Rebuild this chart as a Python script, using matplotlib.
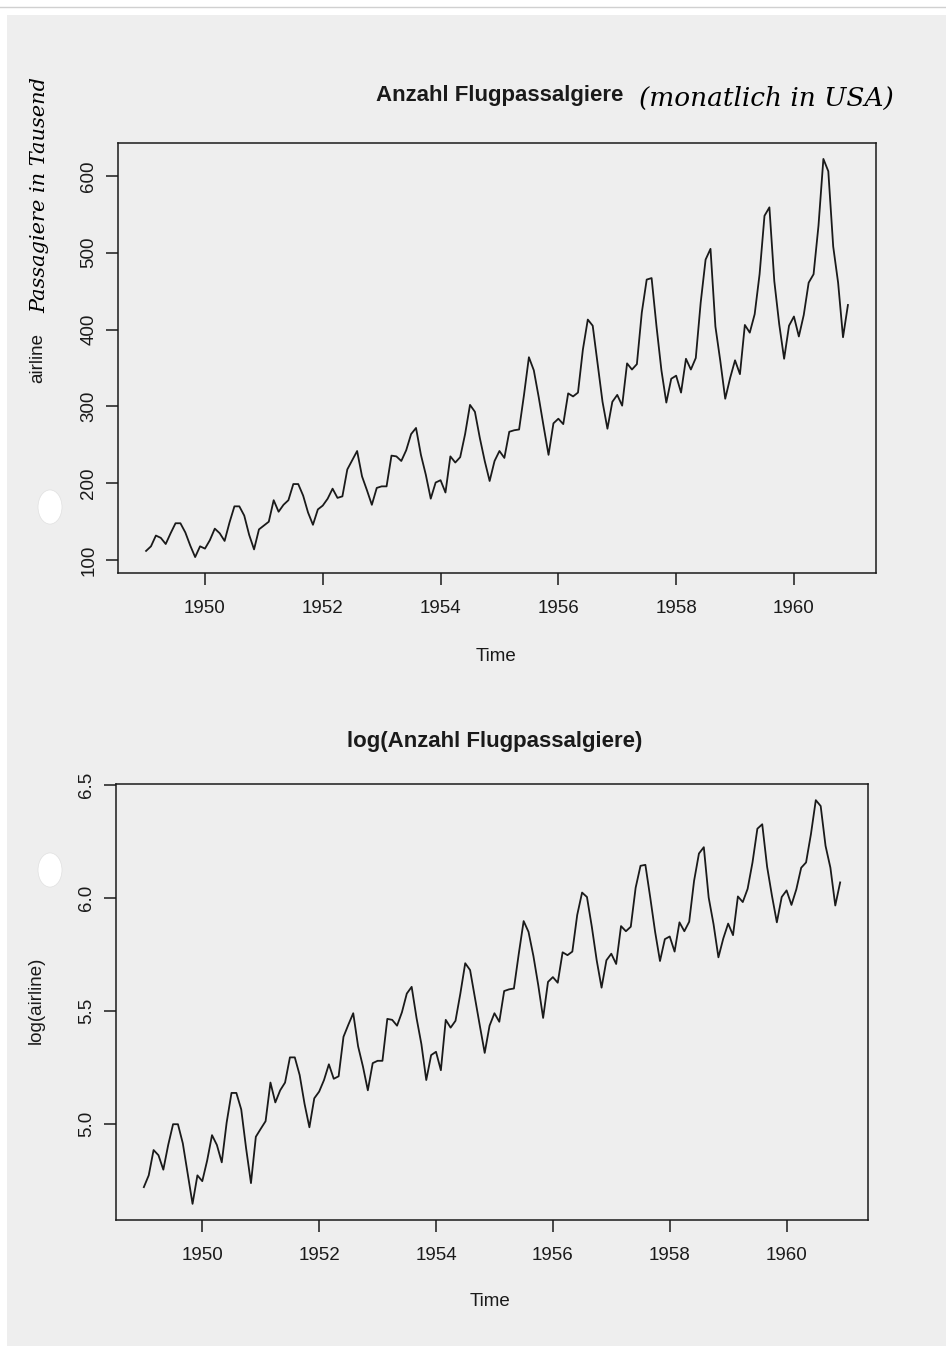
import numpy as np
import matplotlib
matplotlib.use("Agg")
import matplotlib.pyplot as plt
from matplotlib.patches import Rectangle, Circle

# monthly airline passengers (thousands), 1949-1960
years = list(range(1949, 1961))
airline = [
    112, 118, 132, 129, 121, 135, 148, 148, 136, 119, 104, 118,
    115, 126, 141, 135, 125, 149, 170, 170, 158, 133, 114, 140,
    145, 150, 178, 163, 172, 178, 199, 199, 184, 162, 146, 166,
    171, 180, 193, 181, 183, 218, 230, 242, 209, 191, 172, 194,
    196, 196, 236, 235, 229, 243, 264, 272, 237, 211, 180, 201,
    204, 188, 235, 227, 234, 264, 302, 293, 259, 229, 203, 229,
    242, 233, 267, 269, 270, 315, 364, 347, 312, 274, 237, 278,
    284, 277, 317, 313, 318, 374, 413, 405, 355, 306, 271, 306,
    315, 301, 356, 348, 355, 422, 465, 467, 404, 347, 305, 336,
    340, 318, 362, 348, 363, 435, 491, 505, 404, 359, 310, 337,
    360, 342, 406, 396, 420, 472, 548, 559, 463, 407, 362, 405,
    417, 391, 419, 461, 472, 535, 622, 606, 508, 461, 390, 432,
]
x_ticks = [1950, 1952, 1954, 1956, 1958, 1960]
y_ticks_top = [100, 200, 300, 400, 500, 600]
y_ticks_log = [5.0, 5.5, 6.0, 6.5]

W, H = 946, 1346
plt.rcParams['font.family'] = ['Liberation Sans', 'DejaVu Sans']
fig = plt.figure(figsize=(W / 100, H / 100), dpi=100)
fig.patch.set_facecolor('white')

# scanned page background
fig.add_artist(Rectangle((7 / W, 0), 1, 1 - 15 / H, transform=fig.transFigure,
                         facecolor='#eeeeee', edgecolor='none', zorder=-10))
fig.add_artist(plt.Line2D([0, 1], [1 - 7 / H, 1 - 7 / H], transform=fig.transFigure,
                          color='#d0d0d0', lw=1, zorder=-9))
for cy in (507, 870):
    fig.add_artist(Circle((50 / W, 1 - cy / H), 12 / W, transform=fig.transFigure,
                          facecolor='white', edgecolor='#e0e0e0', lw=0.5, zorder=-8))

t = years[0] + np.arange(len(airline)) / 12.0
vals = np.array(airline, dtype=float)


def ax_at(l, r, top, bot):
    return fig.add_axes([l / W, 1 - bot / H, (r - l) / W, (bot - top) / H])


def style(ax, y, yticks, fmt):
    ax.set_facecolor('none')
    for s in ax.spines.values():
        s.set_linewidth(1.1)
        s.set_color('#1a1a1a')
    span = t[-1] - t[0]
    ax.set_xlim(t[0] - 0.04 * span, t[-1] + 0.04 * span)
    yspan = y.max() - y.min()
    ax.set_ylim(y.min() - 0.04 * yspan, y.max() + 0.04 * yspan)
    ax.set_xticks(x_ticks)
    ax.set_yticks(yticks)
    ax.set_yticklabels([fmt % v for v in yticks], rotation=90, va='center')
    ax.tick_params(length=8.5, width=1.1, color='#1a1a1a', labelsize=13.5,
                   labelcolor='#1a1a1a')
    ax.tick_params(axis='x', pad=11)
    ax.tick_params(axis='y', pad=6.5)


# top panel
ax1 = ax_at(118, 876, 143, 573)
ax1.plot(t, vals, color='#1a1a1a', lw=1.3)
style(ax1, vals, y_ticks_top, '%d')
fig.text(496 / W, 1 - 656 / H, 'Time', ha='center', va='center', fontsize=13.5, color='#1a1a1a')
fig.text(38 / W, 1 - 358 / H, 'airline', rotation=90, ha='center', va='center',
         fontsize=13.5, color='#1a1a1a')
fig.text(40 / W, 1 - 195 / H, 'Passagiere in Tausend', rotation=90, ha='center', va='center',
         fontsize=15, color='black', family='DejaVu Serif', style='italic')
fig.text(500 / W, 1 - 95 / H, 'Anzahl Flugpassalgiere', ha='center', va='center',
         fontsize=16, fontweight='bold', color='#1a1a1a')
fig.text(766 / W, 1 - 98 / H, '(monatlich in USA)', ha='center', va='center',
         fontsize=19, color='black', family='DejaVu Serif', style='italic')

# bottom panel
logv = np.log(vals)
ax2 = ax_at(116, 868, 784, 1220)
ax2.plot(t, logv, color='#1a1a1a', lw=1.3)
style(ax2, logv, y_ticks_log, '%.1f')
fig.text(490 / W, 1 - 1302 / H, 'Time', ha='center', va='center', fontsize=13.5, color='#1a1a1a')
fig.text(36 / W, 1 - 1000 / H, 'log(airline)', rotation=90, ha='center', va='center',
         fontsize=13.5, color='#1a1a1a')
fig.text(495 / W, 1 - 742 / H, 'log(Anzahl Flugpassalgiere)', ha='center', va='center',
         fontsize=16, fontweight='bold', color='#1a1a1a')

fig.savefig('out.png', dpi=100)
